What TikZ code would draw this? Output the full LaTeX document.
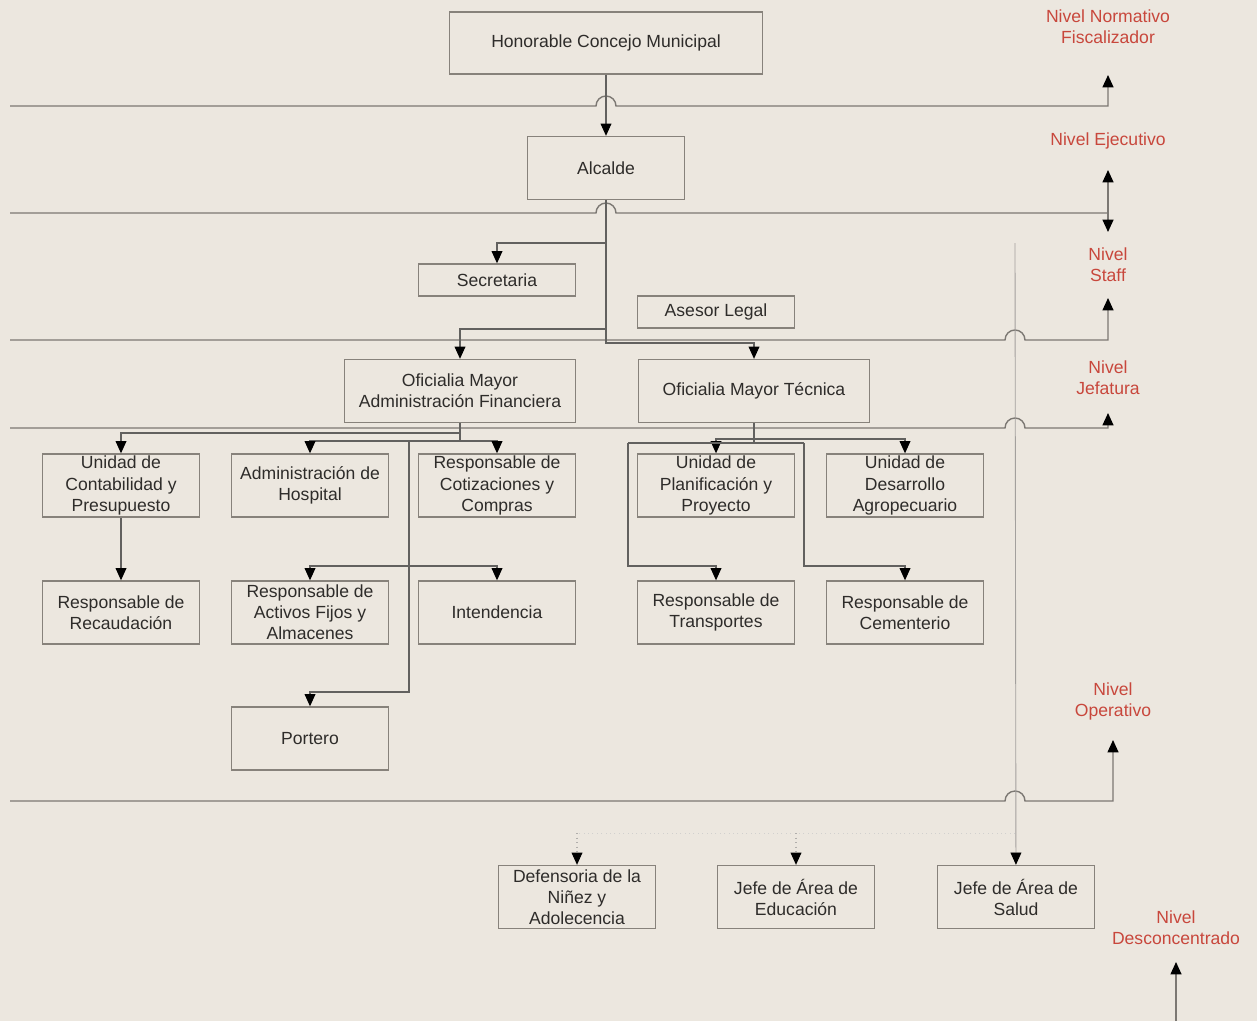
\documentclass[tikz,border=0pt]{standalone}
\usepackage{fontspec}
\setmainfont{Liberation Sans}
\usepackage{xcolor}
\usetikzlibrary{positioning,calc,arrows.meta}

\definecolor{paper}{HTML}{ECE7DF}
\definecolor{linegray}{HTML}{7C7873}
\definecolor{boxgray}{HTML}{87827B}
\definecolor{txtgray}{HTML}{2E2C2A}
\definecolor{nivelred}{HTML}{C8473C}

\tikzset{
    orgtip/.tip={Triangle[width=6.2pt,length=7pt,color=black]},
    unit/.style={draw=boxgray,line width=0.8pt,text=txtgray,align=center,
        minimum width=3.14cm,minimum height=1.26cm,inner sep=1pt,
        font=\fontsize{10}{12}\selectfont},
    wideunit/.style={unit,minimum width=4.62cm},
    flatunit/.style={unit,minimum height=0.64cm},
    nivel/.style={text=nivelred,align=center,inner sep=0pt,
        font=\fontsize{10}{12}\selectfont},
    levelline/.style={draw=linegray,line width=0.8pt},
    link/.style={draw=txtgray!75,line width=0.6pt},
    conn/.style={link,-orgtip},
    lightconn/.style={draw=linegray!70,line width=0.5pt,-orgtip},
    dotconn/.style={draw=linegray!60,line width=0.6pt,dotted,-orgtip}
}

\begin{document}
\begin{tikzpicture}[x=0.02cm,y=-0.02cm]

    % paper and fixed frame
    \fill[paper] (0,0) rectangle (1257,1021);
    \useasboundingbox (0,0) rectangle (1257,1021);

    %units of the municipality
    \node[unit,minimum width=6.26cm,minimum height=1.24cm] (hcm) at (606,43) {Honorable Concejo Municipal};
    \node[unit] (alcalde) at (606,168) {Alcalde};
    \node[flatunit] (secretaria) at (497,280) {Secretaria};
    \node[flatunit] (asesor) at (716,312) {Asesor Legal};
    \node[wideunit] (ofin) at (460,391) {Oficialia Mayor\\Administración Financiera};
    \node[wideunit] (otec) at (754,391) {Oficialia Mayor Técnica};

    \node[unit] (ucont) at (121,485.5) {Unidad de\\Contabilidad y\\Presupuesto};
    \node[unit] (ahosp) at (310,485.5) {Administración de\\Hospital};
    \node[unit] (rcotiz) at (497,485.5) {Responsable de\\Cotizaciones y\\Compras};
    \node[unit] (uplan) at (716,485.5) {Unidad de\\Planificación y\\Proyecto};
    \node[unit] (uagro) at (905,485.5) {Unidad de\\Desarrollo\\Agropecuario};

    \node[unit] (rrecaud) at (121,612.5) {Responsable de\\Recaudación};
    \node[unit] (ractivos) at (310,612.5) {Responsable de\\Activos Fijos y\\Almacenes};
    \node[unit] (intend) at (497,612.5) {Intendencia};
    \node[unit] (rtransp) at (716,612.5) {Responsable de\\Transportes};
    \node[unit] (rcement) at (905,612.5) {Responsable de\\Cementerio};

    \node[unit] (portero) at (310,738.5) {Portero};

    \node[unit] (defens) at (577,897) {Defensoria de la\\Niñez y\\Adolecencia};
    \node[unit] (jeduc) at (796,897) {Jefe de Área de\\Educación};
    \node[unit] (jsalud) at (1016,897) {Jefe de Área de\\Salud};

    %level labels on the right
    \node[nivel] (nnorm) at (1108,27) {Nivel Normativo\\Fiscalizador};
    \node[nivel] (nejec) at (1108,141) {Nivel Ejecutivo};
    \node[nivel] (nstaff) at (1108,265) {Nivel\\Staff};
    \node[nivel] (njef) at (1108,378) {Nivel\\Jefatura};
    \node[nivel] (nop) at (1113,701) {Nivel\\Operativo};
    \node[nivel] (ndesc) at (1176,928) {Nivel\\Desconcentrado};

    %level separators, with hops where a line passes over
    \draw[levelline,-orgtip] (10,106) -- (596,106) arc[start angle=180,end angle=0,radius=0.2cm]
        -- (1108,106) -- (1108,75);
    \draw[levelline] (10,213) -- (596,213) arc[start angle=180,end angle=0,radius=0.2cm]
        -- (1108,213);
    \draw[levelline,orgtip-orgtip] (1108,170) -- (1108,232);
    \draw[levelline,-orgtip] (10,340) -- (1005,340) arc[start angle=180,end angle=0,radius=0.2cm]
        -- (1108,340) -- (1108,298);
    \draw[levelline,-orgtip] (10,428) -- (1005,428) arc[start angle=180,end angle=0,radius=0.2cm]
        -- (1108,428) -- (1108,413);
    \draw[levelline,-orgtip] (10,801) -- (1005,801) arc[start angle=180,end angle=0,radius=0.2cm]
        -- (1113,801) -- (1113,740);
    \draw[levelline,-orgtip] (1176,1021) -- (1176,962);

    %junction points
    \coordinate (jsec) at (606,243);
    \coordinate (jfin) at (606,329);
    \coordinate (jtec) at (606,343);
    \coordinate (jcont) at (460,433);
    \coordinate (jhosp) at (460,441);
    \coordinate (jport) at (409,441);
    \coordinate (jact) at (409,566);
    \coordinate (jplan) at (754,439);
    \coordinate (jtra) at (628,443);
    \coordinate (jcem) at (804,443);
    \coordinate (jsal) at (1015,243);
    \coordinate (jdesc) at (1015,833);

    %ejecutivo and staff
    \draw[conn] (hcm) -- (alcalde);
    \draw[conn] (alcalde) -- (jtec) -| (otec);
    \draw[conn] (jsec) -| (secretaria);
    \draw[conn] (jfin) -| (ofin);

    %administracion financiera
    \draw[link] (ofin) -- (jhosp);
    \draw[conn] (jcont) -| (ucont);
    \draw[conn] (jhosp) -| (ahosp);
    \draw[conn] (jhosp) -| (rcotiz);
    \draw[conn] (ucont) -- (rrecaud);
    \draw[link] (jport) -- (jact);
    \draw[conn] (jact) -| (ractivos);
    \draw[conn] (jact) -| (intend);
    \draw[conn] (jact) -- (409,692) -| (portero);

    %oficialia tecnica
    \draw[link] (otec) -- (754,443);
    \draw[conn] (jplan) -| (uplan);
    \draw[conn] (jplan) -| (uagro);
    \draw[link] (jtra) -- (jcem);
    \draw[conn] (jtra) -- (628,566) -| (rtransp);
    \draw[conn] (jcem) -- (804,566) -| (rcement);

    %desconcentrado
    \draw[lightconn] (jsal) -- (jsalud);
    \draw[draw=linegray!35,line width=0.5pt,dotted] (jdesc) -- (577,833);
    \draw[dotconn] (577,833) -- (defens);
    \draw[dotconn] (796,833) -- (jeduc);

\end{tikzpicture}
\end{document}
